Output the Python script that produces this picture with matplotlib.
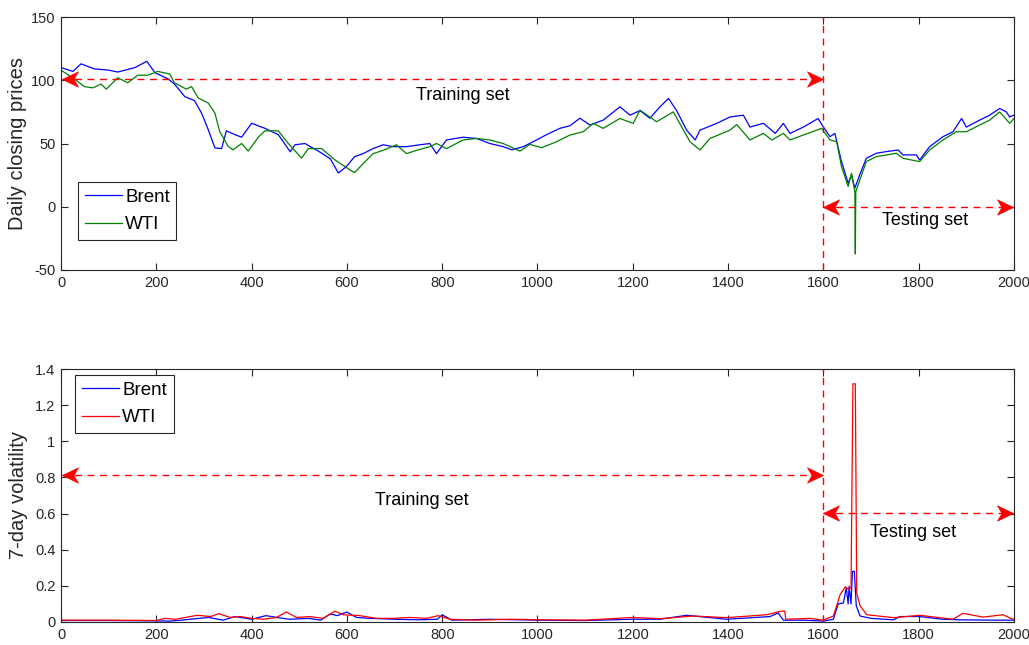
import matplotlib
matplotlib.use("Agg")
import matplotlib.pyplot as plt
from matplotlib.path import Path

plt.rcParams['font.family'] = ['Liberation Sans', 'DejaVu Sans']
plt.rcParams['axes.unicode_minus'] = False

# ---------------- data ----------------
brent_idx = [0, 25, 42, 70, 100, 119, 155, 180, 197, 225, 238, 260, 280, 295, 309, 323, 337, 347,
             365, 379, 400, 428, 456, 481, 491, 512, 540, 565, 582, 599, 616, 634, 655, 676, 697,
             725, 753, 774, 788, 809, 844, 872, 900, 928, 946, 970, 998, 1019, 1047, 1068, 1089,
             1110, 1138, 1173, 1194, 1215, 1236, 1257, 1275, 1292, 1313, 1331, 1341, 1376, 1404,
             1432, 1446, 1474, 1499, 1516, 1530, 1558, 1589, 1600, 1614, 1624, 1638, 1652, 1659,
             1666, 1676, 1690, 1711, 1732, 1757, 1767, 1795, 1802, 1823, 1851, 1872, 1890, 1900,
             1928, 1949, 1970, 1984, 1991, 2000]
brent_price = [110, 107, 113, 109, 108, 106.5, 110, 115, 106, 101, 97, 87, 84, 74, 61, 46.5, 46, 60,
               57, 55, 66, 62, 57, 43.5, 49, 50, 44, 38, 26.7, 31.8, 39.6, 42, 46, 49, 47.5,
               47.5, 49, 50, 42, 52.8, 55, 54, 50, 47.5, 45, 47.5, 52.8, 57, 62, 64, 70,
               64.6, 68.5, 79, 72.4, 76, 70, 79, 85.6, 76, 60.6, 52.8, 60.6, 65.9, 71,
               72.4, 63, 66, 58, 65.9, 58, 63, 69.8, 63, 55.4, 58, 35.7, 18.6, 25,
               14.7, 25, 38.3, 42.3, 43.6, 44.9, 41, 41, 37, 47.5, 55.4, 59.3, 69.8, 63,
               68.5, 72.4, 77.7, 75, 71, 72.4]

wti_idx = [0, 28, 49, 67, 84, 95, 119, 140, 161, 182, 203, 228, 238, 263, 274, 288, 309, 323, 333,
           351, 361, 379, 393, 414, 428, 456, 477, 505, 519, 547, 575, 607, 616, 634, 655, 676,
           704, 725, 746, 774, 788, 809, 844, 872, 900, 928, 963, 984, 1009, 1040, 1068, 1096,
           1117, 1138, 1173, 1201, 1215, 1250, 1285, 1320, 1341, 1362, 1404, 1418, 1446, 1474,
           1492, 1516, 1530, 1558, 1596, 1614, 1628, 1638, 1652, 1659, 1666, 1667, 1668, 1673,
           1690, 1711, 1753, 1767, 1802, 1823, 1851, 1879, 1900, 1928, 1949, 1970, 1991, 2000]
wti_price = [108, 101, 95, 94, 97, 93, 102, 98, 104, 104, 107, 105, 98, 93, 95, 86, 82, 74, 59.5,
             47.7, 45, 50, 44, 55, 60, 60, 50, 38.5, 46, 46, 37, 29, 27, 34, 42, 44.6,
             49, 42, 44.6, 47.5, 50, 46, 52.8, 54, 52.8, 50, 44, 49.3, 46.7, 51.4, 56.7, 59.3,
             65.9, 62, 69.8, 65.9, 76.4, 67.2, 75, 51.4, 44.9, 54, 60.6, 65, 52.8, 58,
             52.8, 58, 52.8, 56.7, 62, 52.8, 51.4, 31.8, 16, 26.5, 12, -37.3, 12, 17.3,
             35.7, 39.6, 42.3, 38.3, 35.7, 44.9, 52.8, 59.3, 59.3, 64.6, 68.5, 75, 66, 69.8]

vb_idx = [0, 100, 200, 230, 260, 290, 310, 340, 365, 400, 430, 465, 480, 520, 545, 565, 580, 600,
          620, 650, 700, 750, 790, 800, 820, 900, 1000, 1100, 1200, 1257, 1313, 1397, 1488, 1505,
          1516, 1560, 1600, 1621, 1631, 1642, 1648, 1652, 1654, 1658, 1661, 1665, 1669, 1677,
          1700, 1747, 1761, 1802, 1850, 1886, 1956, 1995, 2000]
vb_vol = [0.008, 0.008, 0.006, 0.005, 0.012, 0.02, 0.025, 0.01, 0.03, 0.015, 0.035, 0.02, 0.015,
          0.02, 0.01, 0.045, 0.035, 0.055, 0.025, 0.02, 0.015, 0.012, 0.015, 0.04, 0.01, 0.015,
          0.01, 0.008, 0.015, 0.015, 0.037, 0.015, 0.03, 0.05, 0.01, 0.01, 0.005, 0.015, 0.1,
          0.105, 0.19, 0.1, 0.198, 0.1, 0.28, 0.28, 0.09, 0.033, 0.02, 0.012, 0.03, 0.03, 0.015,
          0.012, 0.01, 0.01, 0.01]

vw_idx = [0, 100, 200, 218, 240, 286, 314, 331, 355, 376, 400, 424, 452, 473, 494, 522, 550, 575,
          592, 627, 662, 697, 732, 767, 792, 816, 872, 942, 1012, 1100, 1200, 1257, 1327, 1397,
          1481, 1511, 1519, 1521, 1572, 1600, 1621, 1635, 1646, 1653, 1658, 1662, 1667, 1670,
          1677, 1691, 1747, 1802, 1872, 1893, 1935, 1977, 1995, 2000]
vw_vol = [0.01, 0.01, 0.008, 0.02, 0.015, 0.037, 0.03, 0.046, 0.025, 0.03, 0.02, 0.015, 0.025,
          0.055, 0.025, 0.03, 0.02, 0.06, 0.04, 0.035, 0.02, 0.02, 0.025, 0.02, 0.035, 0.015,
          0.01, 0.015, 0.012, 0.01, 0.025, 0.018, 0.033, 0.024, 0.04, 0.06, 0.06, 0.015, 0.02,
          0.01, 0.033, 0.15, 0.195, 0.18, 0.19, 1.318, 1.318, 0.16, 0.09, 0.04, 0.024, 0.037,
          0.015, 0.048, 0.027, 0.04, 0.018, 0.015]

split_idx = 1600
xticks = [0, 200, 400, 600, 800, 1000, 1200, 1400, 1600, 1800, 2000]
top_yticks = [-50, 0, 50, 100, 150]
bot_yticks = [0, 0.2, 0.4, 0.6, 0.8, 1.0, 1.2, 1.4]
bot_yticklabels = ['0', '0.2', '0.4', '0.6', '0.8', '1', '1.2', '1.4']

# ---------------- figure ----------------
fig = plt.figure(figsize=(10.29, 6.45), dpi=100)
ax1 = fig.add_axes([0.0593, 0.5814, 0.9261, 0.3922])
ax2 = fig.add_axes([0.0593, 0.0357, 0.9261, 0.3922])

BLUE = '#0000FF'
GREEN = '#008000'
RED = '#FF0000'

# MATLAB-like notched arrow heads (tip at the origin)
HEAD_R = Path([(0, 0), (-1, 0.48), (-0.72, 0), (-1, -0.48), (0, 0)],
              [Path.MOVETO, Path.LINETO, Path.LINETO, Path.LINETO, Path.CLOSEPOLY])
HEAD_L = Path([(0, 0), (1, 0.48), (0.72, 0), (1, -0.48), (0, 0)],
              [Path.MOVETO, Path.LINETO, Path.LINETO, Path.LINETO, Path.CLOSEPOLY])


def style_axes(ax):
    ax.tick_params(direction='in', top=True, right=True, length=5, width=0.8,
                   colors='#262626', labelsize=10.5, pad=4)
    for s in ax.spines.values():
        s.set_color('#262626')
        s.set_linewidth(0.8)
    ax.set_xlim(0, 2000)
    ax.set_xticks(xticks)


def double_arrow(ax, x0, x1, y):
    ax.plot([x0, x1], [y, y], linestyle=(0, (5, 4)), color=RED, lw=1.0, zorder=4)
    ax.plot([x1], [y], marker=HEAD_R, markersize=23, color=RED, mec=RED, mew=0.5,
            linestyle='none', zorder=5, clip_on=False)
    ax.plot([x0], [y], marker=HEAD_L, markersize=23, color=RED, mec=RED, mew=0.5,
            linestyle='none', zorder=5, clip_on=False)


legend_kw = dict(fontsize=13.5, handlelength=2.0, handletextpad=0.15, borderpad=0.35,
                 labelspacing=0.55, fancybox=False, framealpha=1, edgecolor='#262626',
                 borderaxespad=0)

# ---- top: prices ----
style_axes(ax1)
ax1.plot(brent_idx, brent_price, color=BLUE, lw=0.9, label='Brent')
ax1.plot(wti_idx, wti_price, color=GREEN, lw=0.9, label='WTI')
ax1.set_ylim(-50, 150)
ax1.set_yticks(top_yticks)
ax1.set_ylabel('Daily closing prices', fontsize=14.5, color='#262626', labelpad=3)
ax1.axvline(split_idx, color=RED, linestyle=(0, (5, 4)), lw=1.0, zorder=4)
double_arrow(ax1, 3, split_idx, 101)
double_arrow(ax1, split_idx, 1997, 0)
ax1.text(843, 88, 'Training set', ha='center', va='center', fontsize=13)
ax1.text(1813, -11, 'Testing set', ha='center', va='center', fontsize=13)
leg1 = ax1.legend(loc='lower left', bbox_to_anchor=(0.018, 0.119), **legend_kw)
leg1.get_frame().set_linewidth(0.8)

# ---- bottom: volatility ----
style_axes(ax2)
ax2.plot(vb_idx, vb_vol, color=BLUE, lw=0.9, label='Brent')
ax2.plot(vw_idx, vw_vol, color=RED, lw=0.9, label='WTI')
ax2.set_ylim(0, 1.4)
ax2.set_yticks(bot_yticks)
ax2.set_yticklabels(bot_yticklabels)
ax2.set_ylabel('7-day volatility', fontsize=14.5, color='#262626', labelpad=5)
ax2.axvline(split_idx, color=RED, linestyle=(0, (5, 4)), lw=1.0, zorder=4)
double_arrow(ax2, 3, split_idx, 0.815)
double_arrow(ax2, split_idx, 1997, 0.605)
ax2.text(758, 0.67, 'Training set', ha='center', va='center', fontsize=13)
ax2.text(1788, 0.495, 'Testing set', ha='center', va='center', fontsize=13)
leg2 = ax2.legend(loc='upper left', bbox_to_anchor=(0.015, 0.976), **legend_kw)
leg2.get_frame().set_linewidth(0.8)

fig.savefig('out.png', dpi=100)
